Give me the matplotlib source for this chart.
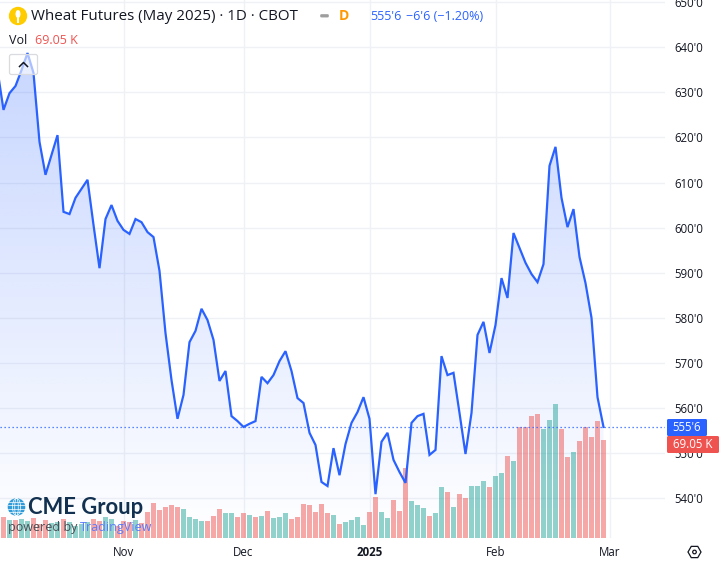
import numpy as np
import matplotlib
matplotlib.use("Agg")
import matplotlib.pyplot as plt
from matplotlib.patches import Circle, FancyBboxPatch, Rectangle, RegularPolygon, Ellipse
from matplotlib.colors import LinearSegmentedColormap

plt.rcParams['font.family'] = ['Open Sans', 'DejaVu Sans']

# closing prices, the first one lies just left of the visible pane
closes = [634.9, 626.1, 629.8, 631.4, 634.9, 638.7, 634.3, 619.0, 611.7, 616.1, 620.5,
          603.5, 603.0, 606.6, 608.6, 610.6, 600.6, 591.0, 601.9, 605.0, 601.5,
          599.5, 598.6, 601.9, 601.2, 599.0, 597.9, 590.4, 576.6, 566.2, 557.6,
          562.9, 574.6, 577.1, 582.0, 579.5, 575.1, 566.0, 568.2, 558.2, 557.1,
          555.8, 556.5, 557.1, 566.9, 565.5, 567.3, 570.4, 572.6, 568.2, 562.2,
          561.1, 554.5, 551.8, 543.6, 542.7, 551.1, 545.1, 552.0, 556.7, 559.1,
          562.4, 557.6, 540.9, 552.5, 554.5, 548.5, 545.8, 543.4, 556.7, 558.2,
          558.7, 549.6, 550.7, 571.5, 567.3, 567.8, 558.9, 549.8, 558.9, 576.2,
          579.1, 572.2, 578.4, 588.8, 584.4, 598.8, 595.5, 592.2, 589.7, 587.9,
          591.9, 613.7, 617.9, 606.6, 600.1, 604.1, 593.5, 587.7, 580.0, 562.4, 555.8]
volumes = [14.6, 12.4, 12.4, 13.2, 11.7, 13.9, 9.6, 12.4, 10.3, 11.0, 13.2, 11.0, 8.2, 9.6,
           11.0, 13.2, 11.7, 14.6, 13.2, 8.2, 11.7, 11.0, 12.4, 10.3, 18.1, 24.4, 19.5,
           21.6, 23.0, 21.6, 20.2, 14.6, 13.2, 11.7, 11.7, 15.3, 20.2, 17.4, 17.4, 14.6,
           17.4, 16.0, 14.6, 15.3, 18.8, 13.9, 14.6, 17.4, 13.2, 14.6, 23.7, 23.0, 18.1,
           23.7, 17.4, 16.0, 9.6, 11.0, 12.4, 14.6, 8.9, 18.1, 28.7, 18.1, 13.9, 26.5,
           18.8, 49.1, 25.8, 23.0, 20.9, 15.3, 17.4, 35.7, 32.2, 21.6, 30.8, 28.0, 36.4,
           36.4, 39.9, 35.7, 43.5, 45.6, 57.6, 54.0, 78.0, 78.0, 85.7, 87.1, 76.6, 82.9,
           94.2, 76.6, 56.8, 60.4, 68.1, 78.0, 70.9, 82.2, 69.05]
volume_dirs = [
    'r','g','r','g','g','r','r','r','g','g','r','g','g','g','g','r','r','g','g','r',
    'r','r','g','r','r','r','r','r','r','r','g','g','g','g','r','r','r','g','g','r',
    'r','g','r','g','r','g','g','g','r','r','r','r','r','r','r','g','r','g','g','g',
    'g','r','r','g','g','r','r','r','g','g','g','r','g','g','r','g','r','r','g','g',
    'g','r','g','g','r','g','r','r','r','r','g','g','g','r','r','g','r','r','r','r','r']
price_ticks = [540, 550, 560, 570, 580, 590, 600, 610, 620, 630, 640, 650]
price_tick_labels = ["540'0", "550'0", "560'0", "570'0", "580'0", "590'0", "600'0", "610'0",
                     "620'0", "630'0", "640'0", "650'0"]
time_ticks = [20, 40, 61, 82, 101]
time_tick_labels = ["Nov", "Dec", "2025", "Feb", "Mar"]

W, H = 721, 563
PANE_R, PANE_B = 665, 538
BLUE = '#2962FF'
RED_SOLID = '#EF5350'
GREEN_SOLID = '#26A69A'
INK = '#131722'
SMALL = 8.3

fig = plt.figure(figsize=(W / 100, H / 100), dpi=100, facecolor='white')
rect = [0, 1 - PANE_B / H, PANE_R / W, PANE_B / H]
ax = fig.add_axes(rect)
x_price = np.arange(len(closes)) - 1
x_vol = np.arange(len(volumes))

px = 6.0
xlim = (-3.5 / px, (PANE_R - 3.5) / px)
ylim = (560 - (PANE_B - 408) / 4.51, 560 + 408 / 4.51)
ax.set_xlim(xlim)
ax.set_ylim(ylim)

# price axis and time axis
ax.set_yticks(price_ticks, price_tick_labels)
ax.set_xticks(time_ticks, time_tick_labels)
ax.yaxis.tick_right()
ax.tick_params(axis='y', length=0, pad=6.5, labelsize=SMALL, labelcolor=INK)
ax.tick_params(axis='x', length=0, pad=6, labelsize=SMALL, labelcolor=INK)
for lab in ax.get_xticklabels():
    if lab.get_text() == "2025":
        lab.set_fontweight('bold')
ax.grid(True, color='#EFF1F5', lw=1.0)
ax.set_axisbelow(True)
for s in ax.spines.values():
    s.set_visible(False)

# gradient area under the price line
cmap = LinearSegmentedColormap.from_list('g', [(41/255, 98/255, 1, 0.0), (41/255, 98/255, 1, 0.26)])
grad = np.linspace(1, 0.0, 256).reshape(-1, 1)
top_price = max(closes)
bottom_price = ylim[0]
im = ax.imshow(grad, cmap=cmap, vmin=0, vmax=1, aspect='auto', zorder=1.2,
               extent=[x_price[0], x_price[-1], bottom_price, top_price])
poly = ax.fill_between(x_price, closes, bottom_price, color='none', lw=0)
im.set_clip_path(poly.get_paths()[0], transform=ax.transData)
ax.set_xlim(xlim)
ax.set_ylim(ylim)

# volume pane shares the x axis, 1 px is about 0.7046 K
vax = fig.add_axes(rect, facecolor='none')
vax.set_xlim(xlim)
vax.set_ylim(0, PANE_B * 0.7046)
vax.axis('off')
bar_colors = [RED_SOLID if d == 'r' else GREEN_SOLID for d in volume_dirs]
vax.bar(x_vol, volumes, width=5 / px, color=bar_colors, alpha=0.5, lw=0, zorder=2)

# price line and last price line on a layer above the bars
lax = fig.add_axes(rect, facecolor='none')
lax.set_xlim(xlim)
lax.set_ylim(ylim)
lax.axis('off')
lax.plot(x_price, closes, color=BLUE, lw=1.6, solid_joinstyle='miter', zorder=3)
lax.axhline(closes[-1], color=BLUE, lw=0.9, ls=(0, (1, 2.2)), zorder=2.5)

# overlay in pixel coordinates for header, tags and logos
ov = fig.add_axes([0, 0, 1, 1], facecolor='none')
ov.set_xlim(0, W)
ov.set_ylim(H, 0)
ov.axis('off')

# header
ov.add_patch(Circle((18, 16), 9.2, fc='#FFCC00', ec='none'))
ov.add_patch(Ellipse((18, 14), 5, 8, fc='white', ec='none'))
ov.add_patch(Rectangle((17.3, 17), 1.4, 5.5, fc='white', ec='none'))
ov.text(31, 16, "Wheat Futures (May 2025) · 1D · CBOT", fontsize=10.9, color=INK, va='center', ha='left')
ov.add_patch(FancyBboxPatch((321, 15), 7, 1.6, boxstyle='round,pad=0,rounding_size=0.5',
                            fc='#9E9E9E', ec='#9E9E9E', lw=1.2))
ov.text(343.5, 16, "D", fontsize=10, color='#FF9800', fontweight='bold', va='center', ha='center')
ov.text(370, 16.5, "555'6", fontsize=9, color=BLUE, va='center', ha='left')
ov.text(405.5, 16.5, "−6'6 (−1.20%)", fontsize=9, color=BLUE, va='center', ha='left')
ov.text(9, 40, "Vol", fontsize=9, color=INK, va='center', ha='left')
ov.text(35, 40, "69.05 K", fontsize=9, color=RED_SOLID, va='center', ha='left')

# collapse button
ov.add_patch(FancyBboxPatch((9.5, 54.5), 28, 20, boxstyle='round,pad=0,rounding_size=2',
                            fc=(1, 1, 1, 0.6), ec='#D9DBE0', lw=0.9, zorder=5))
ov.plot([19.5, 23.5, 27.5], [66.5, 62.5, 66.5], color=INK, lw=1.1, zorder=6)

# last value tags
ov.add_patch(FancyBboxPatch((667, 419), 40, 17, boxstyle='round,pad=0,rounding_size=1.5',
                            fc=BLUE, ec='none', zorder=4))
ov.text(687, 427.5, "555'6", fontsize=SMALL, color='white', va='center', ha='center', zorder=5)
ov.add_patch(FancyBboxPatch((667, 436), 52, 17, boxstyle='round,pad=0,rounding_size=1.5',
                            fc=RED_SOLID, ec='none', zorder=4))
ov.text(693, 444.5, "69.05 K", fontsize=SMALL, color='white', va='center', ha='center', zorder=5)

# CME logo
ov.add_patch(Circle((16.5, 507), 8.8, fc='#2F9BD8', ec='none', zorder=7))
for dy in (-5, -1.7, 1.7, 5):
    ov.plot([8, 25], [507 + dy, 507 + dy], color='white', lw=0.5, zorder=8)
for w in (3.5, 8):
    ov.add_patch(Ellipse((16.5, 507), w, 17.6, fc='none', ec='white', lw=0.5, zorder=8))
ov.text(28.5, 507.5, "CME Group", fontsize=15.8, color='#12304F', fontweight='bold',
        va='center', ha='left', zorder=8, family=['Lato', 'DejaVu Sans'])
ov.text(8, 527, "powered by", fontsize=9, color='#4A4D55', va='center', ha='left', zorder=8)
ov.text(79.5, 527, "TradingView", fontsize=9, color='#5C7CFA', va='center', ha='left', zorder=8)

# settings icon
ov.add_patch(RegularPolygon((694.5, 552), 6, radius=6.5, orientation=np.pi / 6,
                            fc='none', ec=INK, lw=0.9))
ov.add_patch(Circle((694.5, 552), 1.8, fc='none', ec=INK, lw=0.9))

fig.savefig('out.png', dpi=100, facecolor='white')
